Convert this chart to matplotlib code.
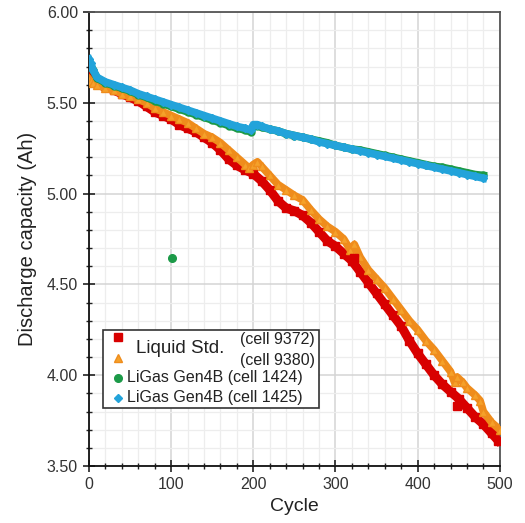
import matplotlib
matplotlib.use("Agg")
import matplotlib.pyplot as plt
from matplotlib.ticker import MultipleLocator, FormatStrFormatter
from matplotlib.patches import Rectangle

plt.rcParams['font.family'] = ['Liberation Sans', 'DejaVu Sans']

# ---- data ----
red_cycle = [0, 2, 5, 10, 20, 30, 40, 50, 60, 70, 80, 90, 100, 110, 120, 130, 140, 150,
             160, 170, 180, 190, 200, 210, 220, 230, 240, 250, 260, 270, 280, 290, 300,
             310, 320, 330, 340, 350, 360, 370, 380, 390, 400, 410, 420, 430, 440, 450,
             460, 470, 480, 490, 498]
red_cap = [5.66, 5.65, 5.63, 5.61, 5.59, 5.57, 5.55, 5.53, 5.51, 5.48, 5.45, 5.43, 5.41,
           5.38, 5.36, 5.34, 5.31, 5.28, 5.24, 5.19, 5.155, 5.13, 5.11, 5.07, 5.02, 4.96,
           4.92, 4.905, 4.88, 4.84, 4.79, 4.74, 4.71, 4.67, 4.63, 4.57, 4.51, 4.45, 4.39,
           4.33, 4.27, 4.19, 4.12, 4.06, 4.00, 3.95, 3.91, 3.87, 3.82, 3.77, 3.73, 3.68, 3.64]
red_out_cycle = [323, 448]
red_out_cap = [4.645, 3.83]

orange_cycle = [0, 2, 5, 10, 20, 30, 40, 50, 60, 70, 80, 90, 100, 110, 120, 130, 140, 150,
                160, 170, 180, 190, 195, 200, 205, 210, 220, 230, 240, 250, 260, 270, 280,
                290, 300, 310, 318, 323, 330, 340, 350, 360, 370, 380, 390, 400, 410, 420,
                430, 440, 445, 448, 455, 460, 470, 476, 480, 490, 500]
orange_cap = [5.63, 5.62, 5.61, 5.60, 5.58, 5.57, 5.55, 5.54, 5.52, 5.50, 5.47, 5.45, 5.43,
              5.41, 5.39, 5.36, 5.33, 5.31, 5.28, 5.24, 5.20, 5.16, 5.14, 5.16, 5.175, 5.15,
              5.10, 5.05, 5.02, 4.99, 4.965, 4.91, 4.86, 4.82, 4.79, 4.75, 4.69, 4.72, 4.65,
              4.58, 4.53, 4.48, 4.42, 4.36, 4.30, 4.25, 4.19, 4.14, 4.08, 4.02, 3.96, 3.99,
              3.96, 3.93, 3.89, 3.86, 3.80, 3.74, 3.70]

green_cycle = [0, 2, 5, 10, 20, 30, 40, 50, 60, 70, 80, 90, 100, 110, 120, 130, 140, 150,
               160, 170, 180, 190, 197, 200, 205, 210, 220, 230, 240, 250, 260, 270, 280,
               290, 300, 310, 320, 330, 340, 350, 360, 370, 380, 390, 400, 410, 420, 430,
               440, 450, 460, 470, 480]
green_cap = [5.71, 5.70, 5.68, 5.635, 5.61, 5.595, 5.58, 5.565, 5.545, 5.53, 5.51, 5.495,
             5.48, 5.465, 5.45, 5.435, 5.42, 5.405, 5.39, 5.375, 5.36, 5.35, 5.34, 5.37,
             5.375, 5.365, 5.355, 5.345, 5.33, 5.32, 5.31, 5.30, 5.29, 5.28, 5.265, 5.255,
             5.245, 5.24, 5.23, 5.22, 5.21, 5.20, 5.19, 5.18, 5.17, 5.16, 5.15, 5.145,
             5.135, 5.125, 5.115, 5.105, 5.10]
green_out_cycle = [101]
green_out_cap = [4.645]

blue_cycle = [0, 2, 5, 10, 20, 30, 40, 50, 60, 70, 80, 90, 100, 110, 120, 130, 140, 150,
              160, 170, 180, 190, 197, 200, 205, 210, 220, 230, 240, 250, 260, 270, 280,
              290, 300, 310, 320, 330, 340, 350, 360, 370, 380, 390, 400, 410, 420, 430,
              440, 450, 460, 470, 480]
blue_cap = [5.74, 5.72, 5.68, 5.64, 5.615, 5.60, 5.585, 5.57, 5.55, 5.535, 5.52, 5.505,
            5.49, 5.475, 5.46, 5.445, 5.43, 5.415, 5.40, 5.385, 5.37, 5.36, 5.35, 5.38,
            5.38, 5.37, 5.355, 5.345, 5.33, 5.32, 5.31, 5.30, 5.285, 5.275, 5.265, 5.255,
            5.245, 5.235, 5.225, 5.215, 5.205, 5.195, 5.185, 5.175, 5.165, 5.155, 5.145,
            5.135, 5.125, 5.115, 5.105, 5.095, 5.085]

# ---- figure ----
fig = plt.figure(figsize=(5.25, 5.23), dpi=100)
ax = fig.add_axes([0.1695, 0.109, 0.7825, 0.868])

RED = '#d80000'
ORANGE = '#f5a12a'
ORANGE_E = '#ef8c1c'
GREEN = '#1c9a48'
BLUE = '#22a3da'

ax.plot(red_cycle, red_cap, color=RED, lw=6.5, marker='s', ms=5.5,
        mfc=RED, mec=RED, zorder=3)
ax.plot(orange_cycle, orange_cap, color=ORANGE_E, lw=5.5, marker='^', ms=6,
        mfc=ORANGE, mec=ORANGE_E, zorder=4)
ax.plot(red_out_cycle, red_out_cap, ls='none', marker='s', ms=5.5,
        mfc=RED, mec=RED, zorder=4.5)
ax.plot(green_cycle, green_cap, color=GREEN, lw=5.5, marker='o', ms=5,
        mfc=GREEN, mec=GREEN, zorder=5)
ax.plot(green_out_cycle, green_out_cap, ls='none', marker='o', ms=5.5,
        mfc=GREEN, mec=GREEN, zorder=5)
ax.plot(blue_cycle, blue_cap, color=BLUE, lw=5.5, marker='D', ms=4.5,
        mfc=BLUE, mec=BLUE, zorder=6)

ax.set_xlim(0, 500)
ax.set_ylim(3.5, 6.0)
ax.xaxis.set_major_locator(MultipleLocator(100))
ax.xaxis.set_minor_locator(MultipleLocator(20))
ax.yaxis.set_major_locator(MultipleLocator(0.5))
ax.yaxis.set_minor_locator(MultipleLocator(0.1))
ax.yaxis.set_major_formatter(FormatStrFormatter('%.2f'))

ax.grid(which='minor', color='#ededed', lw=0.9, zorder=0)
ax.grid(which='major', color='#d4d4d4', lw=1.1, zorder=0)
ax.set_axisbelow(True)

ax.tick_params(which='major', direction='inout', length=8, width=1.2,
               labelsize=11.5, color='#222222', labelcolor='#333333', pad=4)
ax.tick_params(which='minor', direction='inout', length=5, width=1.0, color='#222222')
ax.tick_params(axis='y', which='both', right=False)
ax.tick_params(axis='x', which='both', top=False)

for side in ['left', 'bottom']:
    ax.spines[side].set_color('#111111')
    ax.spines[side].set_linewidth(1.3)
for side in ['top', 'right']:
    ax.spines[side].set_color('#555555')
    ax.spines[side].set_linewidth(1.3)

ax.set_xlabel('Cycle', fontsize=14, color='#222222', labelpad=4)
ax.set_ylabel('Discharge capacity (Ah)', fontsize=14.5, color='#222222', labelpad=7)

# ---- legend (drawn manually to match layout) ----
def ax_xy(px, py):
    # convert reference pixel coords into axes fraction
    return (px - 89) / (500 - 89), (466 - py) / (466 - 12)

x0, y0 = ax_xy(103, 408)
x1, y1 = ax_xy(319, 330)
ax.add_patch(Rectangle((x0, y0), x1 - x0, y1 - y0, transform=ax.transAxes,
                       facecolor='white', edgecolor='#333333', lw=1.2, zorder=10))
mx, _ = ax_xy(118, 0)
for py, mk, fc, ec, ms in [(337, 's', RED, RED, 5.5), (358, '^', ORANGE, ORANGE_E, 6),
                           (378, 'o', GREEN, GREEN, 5.5), (398, 'D', BLUE, BLUE, 4.5)]:
    _, my = ax_xy(0, py)
    ax.plot([mx], [my], marker=mk, ms=ms, mfc=fc, mec=ec, transform=ax.transAxes,
            zorder=11, clip_on=False)

tx, ty = ax_xy(136, 348)
ax.text(tx, ty, 'Liquid Std.', transform=ax.transAxes, fontsize=13.5, va='center',
        ha='left', color='#222222', zorder=11)
rx, ry1 = ax_xy(315, 339)
_, ry2 = ax_xy(315, 360)
ax.text(rx, ry1, '(cell 9372)', transform=ax.transAxes, fontsize=11.5, va='center',
        ha='right', color='#222222', zorder=11)
ax.text(rx, ry2, '(cell 9380)', transform=ax.transAxes, fontsize=11.5, va='center',
        ha='right', color='#222222', zorder=11)
gx, gy = ax_xy(127, 378)
_, by = ax_xy(127, 398)
ax.text(gx, gy, 'LiGas Gen4B (cell 1424)', transform=ax.transAxes, fontsize=11.5,
        va='center', ha='left', color='#222222', zorder=11)
ax.text(gx, by, 'LiGas Gen4B (cell 1425)', transform=ax.transAxes, fontsize=11.5,
        va='center', ha='left', color='#222222', zorder=11)

fig.savefig('out.png', dpi=100)
